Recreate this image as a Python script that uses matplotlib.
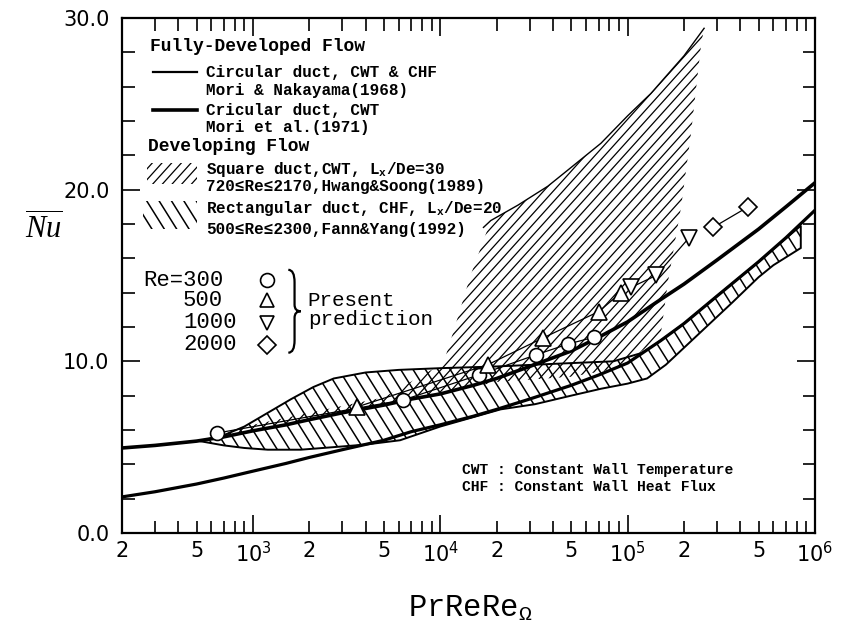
import numpy as np
import matplotlib
matplotlib.use('Agg')
import matplotlib.pyplot as plt
from matplotlib.patches import Polygon, Rectangle, PathPatch
from matplotlib.path import Path
from matplotlib.collections import LineCollection
from matplotlib.ticker import FixedLocator, LogLocator, FuncFormatter, MultipleLocator

plt.rcParams['mathtext.fontset'] = 'custom'
plt.rcParams['mathtext.rm'] = 'Liberation Mono'
plt.rcParams['mathtext.it'] = 'Liberation Serif:italic'
plt.rcParams['mathtext.bf'] = 'Liberation Mono:bold'
plt.rcParams['mathtext.sf'] = 'DejaVu Sans'

# fully developed flow, circular duct (two correlations)
pe_a = [200, 300, 500, 700, 1e3, 1.5e3, 2e3, 3e3, 5e3, 7e3, 1e4, 1.5e4, 2e4,
        3e4, 5e4, 7e4, 1e5, 1.5e5, 2e5, 3e5, 5e5, 7e5, 1e6]
nu_a = [4.95, 5.1, 5.35, 5.6, 5.95, 6.3, 6.6, 7.0, 7.45, 7.8, 8.1, 8.6, 9.0,
        9.7, 10.6, 11.4, 12.3, 13.6, 14.5, 15.9, 17.7, 19.0, 20.4]
pe_b = [200, 300, 500, 700, 1e3, 1.5e3, 2e3, 3e3, 5e3, 7e3, 1e4, 1.5e4, 2e4,
        3e4, 5e4, 7e4, 1e5, 1.5e5, 2e5, 3e5, 5e5, 7e5, 1e6]
nu_b = [2.1, 2.4, 2.85, 3.2, 3.6, 4.05, 4.4, 4.85, 5.4, 5.9, 6.3, 6.8, 7.2,
        7.8, 8.6, 9.2, 9.9, 11.2, 12.2, 13.8, 15.8, 17.2, 18.8]

# Fann & Yang band (upper edge left->right, lower edge right->left)
fy_pe = [520, 700, 900, 1200, 1600, 2100, 2700, 4000, 6000, 1e4, 2e4, 4e4,
         8.4e4, 1.2e5, 1.5e5, 2e5, 3e5, 5e5, 8.4e5,
         8.4e5, 6e5, 5e5, 3.6e5, 2.4e5, 1.6e5, 1.27e5, 1e5, 7.2e4, 5e4, 3.2e4,
         2.1e4, 1e4, 6100, 4000, 2700, 1800, 1200, 900, 700]
fy_nu = [5.35, 5.7, 6.2, 7.0, 7.8, 8.5, 9.0, 9.35, 9.5, 9.6, 9.7, 9.85,
         10.0, 10.5, 11.2, 12.2, 13.8, 15.8, 17.9,
         16.6, 15.6, 14.9, 13.4, 11.6, 9.8, 9.0, 8.7, 8.4, 8.0, 7.5,
         7.2, 6.2, 5.4, 5.15, 5.0, 4.85, 4.85, 4.95, 5.1]

# Hwang & Soong region
hs_pe = [640, 1e3, 2e3, 5e3, 1e4, 2e4, 5e4, 8e4, 1e5, 1.5e5,
         1.64e5, 1.93e5, 2.18e5, 2.47e5, 2.56e5,
         2e5, 1.33e5, 1e5, 7.2e4, 5e4, 3.75e4, 2.6e4, 1.86e4,
         1.45e4, 1.18e4, 1.04e4, 5e3, 2e3, 1e3]
hs_nu = [5.65, 5.95, 6.6, 7.45, 8.1, 8.8, 9.1, 9.5, 9.9, 11.5,
         14.6, 19.0, 23.3, 28.5, 29.4,
         27.8, 25.6, 24.3, 22.7, 21.3, 20.2, 19.1, 18.2,
         15.0, 11.8, 9.9, 7.9, 7.0, 6.3]
hs_top_pe = [1.7e4, 1.86e4, 2.6e4, 3.75e4, 5e4, 7.2e4, 1e5, 1.33e5, 2e5, 2.56e5]
hs_top_nu = [17.8, 18.2, 19.1, 20.2, 21.3, 22.7, 24.3, 25.6, 27.8, 29.4]

# present prediction
re300_pe = [644, 6360, 16000, 32300, 47900, 66000]
re300_nu = [5.82, 7.75, 9.2, 10.37, 11.0, 11.4]
re500_pe = [3610, 17900, 35200, 70200, 92100]
re500_nu = [7.35, 9.8, 11.35, 12.9, 14.0]
re1000_pe = [104000, 142000, 213000]
re1000_nu = [14.3, 15.0, 17.2]
re2000_pe = [286000, 440000]
re2000_nu = [17.8, 19.0]

x_major = [1e3, 1e4, 1e5, 1e6]
x_major_labels = [r'$\mathsf{10^{3}}$', r'$\mathsf{10^{4}}$',
                  r'$\mathsf{10^{5}}$', r'$\mathsf{10^{6}}$']

MONO = ['Liberation Mono', 'DejaVu Sans Mono']

fig = plt.figure(figsize=(8.42, 6.27), dpi=100)
ax = fig.add_axes([0.1449, 0.150, 0.823, 0.8213])
ax.set_xscale('log')
ax.set_xlim(200, 1e6)
ax.set_ylim(0, 30)


def add_hatch(patch, angle, spacing, lw):
    bb = ax.get_position()
    W = bb.width * fig.get_figwidth() * fig.dpi
    H = bb.height * fig.get_figheight() * fig.dpi
    th = np.deg2rad(angle)
    d = np.array([np.cos(th), np.sin(th)])
    n = np.array([-np.sin(th), np.cos(th)])
    L = np.hypot(W, H)
    c0 = np.array([W / 2, H / 2])
    segs = []
    for off in np.arange(-L, L, spacing):
        p0 = c0 + off * n - L * d
        p1 = c0 + off * n + L * d
        segs.append([(p0[0] / W, p0[1] / H), (p1[0] / W, p1[1] / H)])
    lc = LineCollection(segs, colors='black', linewidths=lw,
                        transform=ax.transAxes, zorder=2)
    ax.add_collection(lc, autolim=False)
    lc.set_clip_path(patch)


# developing flow regions
hs_patch = Polygon(np.column_stack([hs_pe, hs_nu]), closed=True,
                   facecolor='none', edgecolor='none')
ax.add_patch(hs_patch)
add_hatch(hs_patch, 48, 7.2, 0.9)
ax.plot(hs_top_pe, hs_top_nu, color='black', lw=1.0, zorder=2)

fy_patch = Polygon(np.column_stack([fy_pe, fy_nu]), closed=True,
                   facecolor='none', edgecolor='black', lw=1.4, zorder=2)
ax.add_patch(fy_patch)
add_hatch(fy_patch, -58, 10.5, 1.1)

# fully developed curves
ax.plot(pe_a, nu_a, color='black', lw=2.6, zorder=3)
ax.plot(pe_b, nu_b, color='black', lw=2.3, zorder=3)

# present prediction
mk = dict(color='black', lw=0.9, mfc='white', mec='black', mew=1.2, zorder=5)
ax.plot(re300_pe, re300_nu, marker='o', ms=10, **mk)
ax.plot(re500_pe, re500_nu, marker='^', ms=11, **mk)
ax.plot(re1000_pe, re1000_nu, marker='v', ms=11, **mk)
ax.plot(re2000_pe, re2000_nu, marker='D', ms=9, **mk)

# axes styling
for s in ax.spines.values():
    s.set_linewidth(1.6)
ax.xaxis.set_major_locator(FixedLocator(x_major))
ax.xaxis.set_major_formatter(FuncFormatter(
    lambda v, p: x_major_labels[x_major.index(v)] if v in x_major else ''))
ax.xaxis.set_minor_locator(LogLocator(base=10, subs=np.arange(2, 10)))


def minor_fmt(v, p):
    m = int(round(v / 10 ** np.floor(np.log10(v) + 1e-9)))
    return str(m) if m in (2, 5) else ''


ax.xaxis.set_minor_formatter(FuncFormatter(minor_fmt))
ax.yaxis.set_major_locator(MultipleLocator(10))
ax.yaxis.set_minor_locator(MultipleLocator(2))
ax.yaxis.set_major_formatter(FuncFormatter(lambda v, p: '%.1f' % v))
ax.tick_params(which='both', direction='in', top=True, right=True,
               labelsize=15, width=1.2)
ax.tick_params(which='major', length=13)
ax.tick_params(which='minor', length=9)
ax.tick_params(axis='x', which='both', pad=6)
ax.tick_params(axis='y', which='both', pad=9)

ax.text(-0.112, 0.592, r'$\overline{Nu}$', transform=ax.transAxes,
        fontsize=22, ha='center', va='center')
ax.text(0.502, -0.146, r'PrReRe$_{\Omega}$', transform=ax.transAxes,
        fontsize=22, ha='center', va='center', family=MONO)

# legend
T = ax.transAxes
bold = dict(transform=T, family=MONO, fontweight='bold', va='center')
ax.text(0.040, 0.944, 'Fully-Developed Flow', fontsize=13, **bold)
ax.plot([0.045, 0.108], [0.895, 0.895], transform=T, color='black', lw=1.6)
ax.text(0.121, 0.895, 'Circular duct, CWT & CHF', fontsize=11.5, **bold)
ax.text(0.121, 0.860, 'Mori & Nakayama(1968)', fontsize=11.5, **bold)
ax.plot([0.045, 0.108], [0.821, 0.821], transform=T, color='black', lw=2.6)
ax.text(0.121, 0.821, 'Cricular duct, CWT', fontsize=11.5, **bold)
ax.text(0.121, 0.788, 'Mori et al.(1971)', fontsize=11.5, **bold)
ax.text(0.038, 0.750, 'Developing Flow', fontsize=13, **bold)

r1 = Rectangle((0.036, 0.678), 0.072, 0.040, transform=T,
               facecolor='none', edgecolor='none')
ax.add_patch(r1)
add_hatch(r1, 48, 7.2, 0.9)
ax.text(0.121, 0.705, r'Square duct,CWT, L$_\mathbf{x}$/De=30',
        fontsize=11.5, **bold)
ax.text(0.121, 0.672, '720\u2264Re\u22642170,Hwang&Soong(1989)',
        fontsize=11.5, **bold)
r2 = Rectangle((0.030, 0.590), 0.078, 0.054, transform=T,
               facecolor='none', edgecolor='none')
ax.add_patch(r2)
add_hatch(r2, -58, 10.5, 1.1)
ax.text(0.121, 0.631, r'Rectangular duct, CHF, L$_\mathbf{x}$/De=20',
        fontsize=11.5, **bold)
ax.text(0.121, 0.590, '500\u2264Re\u22642300,Fann&Yang(1992)',
        fontsize=11.5, **bold)

reg = dict(transform=T, family=MONO, va='center', fontsize=16)
ax.text(0.030, 0.491, 'Re=300', **reg)
for fy, lab in zip([0.452, 0.408, 0.365], ['500', '1000', '2000']):
    ax.text(0.088, fy, lab, **reg)
for fy, m in zip([0.491, 0.452, 0.408, 0.365], ['o', '^', 'v', 'D']):
    ax.plot([0.209], [fy], transform=T, marker=m, ms=10 if m != 'D' else 9,
            mfc='white', mec='black', mew=1.2, clip_on=False)

# brace
bx, by0, by1, bw = 0.240, 0.350, 0.511, 0.018
bm = (by0 + by1) / 2
h = by1 - by0
verts = [(bx, by1), (bx + bw * 0.5, by1), (bx + bw * 0.5, by1 - 0.15 * h),
         (bx + bw * 0.5, bm + 0.08 * h), (bx + bw * 0.5, bm), (bx + bw, bm),
         (bx + bw * 0.5, bm), (bx + bw * 0.5, bm - 0.08 * h),
         (bx + bw * 0.5, by0 + 0.15 * h), (bx + bw * 0.5, by0), (bx, by0)]
codes = [Path.MOVETO, Path.CURVE3, Path.CURVE3, Path.LINETO, Path.CURVE3,
         Path.CURVE3, Path.CURVE3, Path.CURVE3, Path.LINETO, Path.CURVE3,
         Path.CURVE3]
ax.add_patch(PathPatch(Path(verts, codes), transform=T, facecolor='none',
                       edgecolor='black', lw=1.6))
pres = dict(transform=T, family=MONO, va='center', fontsize=15)
ax.text(0.268, 0.452, 'Present', **pres)
ax.text(0.268, 0.414, 'prediction', **pres)

ax.text(0.491, 0.122, 'CWT : Constant Wall Temperature', fontsize=10.5,
        **bold)
ax.text(0.491, 0.089, 'CHF : Constant Wall Heat Flux', fontsize=10.5,
        **bold)

fig.savefig('out.png', dpi=100)
